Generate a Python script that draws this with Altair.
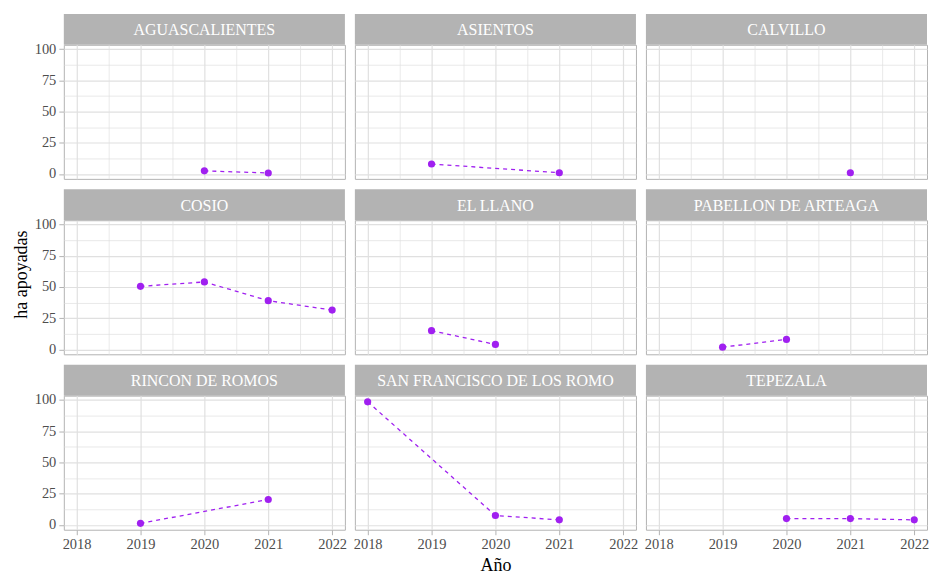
import altair as alt
import pandas as pd

municipios = ["AGUASCALIENTES", "ASIENTOS", "CALVILLO", "COSIO", "EL LLANO",
              "PABELLON DE ARTEAGA", "RINCON DE ROMOS", "SAN FRANCISCO DE LOS ROMO", "TEPEZALA"]

mun = ["AGUASCALIENTES", "AGUASCALIENTES",
       "ASIENTOS", "ASIENTOS",
       "CALVILLO",
       "COSIO", "COSIO", "COSIO", "COSIO",
       "EL LLANO", "EL LLANO",
       "PABELLON DE ARTEAGA", "PABELLON DE ARTEAGA",
       "RINCON DE ROMOS", "RINCON DE ROMOS",
       "SAN FRANCISCO DE LOS ROMO", "SAN FRANCISCO DE LOS ROMO", "SAN FRANCISCO DE LOS ROMO",
       "TEPEZALA", "TEPEZALA", "TEPEZALA"]
anio = [2020, 2021,
        2019, 2021,
        2021,
        2019, 2020, 2021, 2022,
        2019, 2020,
        2019, 2020,
        2019, 2021,
        2018, 2020, 2021,
        2020, 2021, 2022]
ha = [2.5, 0.8,
      8.0, 1.0,
      1.0,
      50.5, 54.0, 39.0, 31.5,
      15.0, 4.0,
      1.8, 8.0,
      1.2, 20.3,
      98.5, 7.5, 4.0,
      5.0, 5.0, 4.0]

df = pd.DataFrame({"mun": mun, "anio": anio, "ha": ha})

PURPLE = "#A020F0"
GRID = "#E0E0E0"
W = 282
H = 134.5
STRIP = 31
FONT = "Liberation Serif"

xscale = alt.Scale(domain=[2017.8, 2022.2], nice=False, zero=False)
yscale = alt.Scale(domain=[-3.9, 103.4], nice=False, zero=False)

xvals = [2018, 2018.5, 2019, 2019.5, 2020, 2020.5, 2021, 2021.5, 2022]
yvals = [0, 12.5, 25, 37.5, 50, 62.5, 75, 87.5, 100]

major_x = "datum.value % 1 === 0"
major_y = "datum.value % 25 === 0"


def make_axis(show, test, vals, title=None, **kw):
    common = dict(
        values=vals,
        grid=True,
        gridColor=GRID,
        gridWidth={"condition": {"test": test, "value": 1.2}, "value": 0.7},
        domain=False,
        title=title,
    )
    if show:
        common.update(dict(
            labels=True,
            labelExpr="(" + test + ") ? datum.label : ''",
            labelColor="#4D4D4D",
            labelFontSize=14.5,
            labelFont=FONT,
            labelPadding=3,
            ticks=True,
            tickColor="#B3B3B3",
            tickSize=5,
            tickOpacity={"condition": {"test": test, "value": 1}, "value": 0},
            format="d",
        ))
    else:
        common.update(dict(labels=False, ticks=False))
    common.update(kw)
    return alt.Axis(**common)


panels = []
for i, name in enumerate(municipios):
    row, col = divmod(i, 3)
    xkw = {}
    ykw = {}
    xtitle = None
    ytitle = None
    if row == 2 and col == 1:
        xtitle = "Año"
        xkw = dict(titleFont=FONT, titleFontSize=18, titleFontWeight="normal",
                   titleColor="black", titlePadding=5)
    if row == 1 and col == 0:
        ytitle = "ha apoyadas"
        ykw = dict(titleFont=FONT, titleFontSize=18, titleFontWeight="normal",
                   titleColor="black", titleY=54, titlePadding=4)
    xaxis = make_axis(row == 2, major_x, xvals, xtitle, **xkw)
    yaxis = make_axis(col == 0, major_y, yvals, ytitle, **ykw)

    x = alt.X("anio:Q", scale=xscale, axis=xaxis)
    y = alt.Y("ha:Q", scale=yscale, axis=yaxis)

    base = alt.Chart(df).transform_filter(alt.datum.mun == name)
    line = base.mark_line(color=PURPLE, strokeDash=[4, 4], strokeWidth=1.3).encode(x=x, y=y)
    pts = base.mark_circle(color=PURPLE, size=52, opacity=1).encode(x=x, y=y)

    sdf = pd.DataFrame({"mun": [name]})
    strip = alt.Chart(sdf).mark_rect(color="#B3B3B3").encode(
        x=alt.value(0), x2=alt.value(W), y=alt.value(-STRIP), y2=alt.value(0))
    txt = alt.Chart(sdf).mark_text(color="white", fontSize=16, font=FONT,
                                   baseline="middle", align="center").encode(
        x=alt.value(W / 2), y=alt.value(-STRIP / 2 + 1), text="mun:N")

    panels.append(alt.layer(strip, txt, line, pts).properties(width=W, height=H))

chart = alt.concat(*panels, columns=3, spacing={"row": 41, "column": 10}).properties(
    bounds="flush", align="each",
    padding={"left": 3, "top": 4, "right": 0, "bottom": 0},
).configure(font=FONT, background="white").configure_view(stroke="#B3B3B3", strokeWidth=1)

chart.save("out.html", embed_options={"renderer": "svg", "actions": False})
